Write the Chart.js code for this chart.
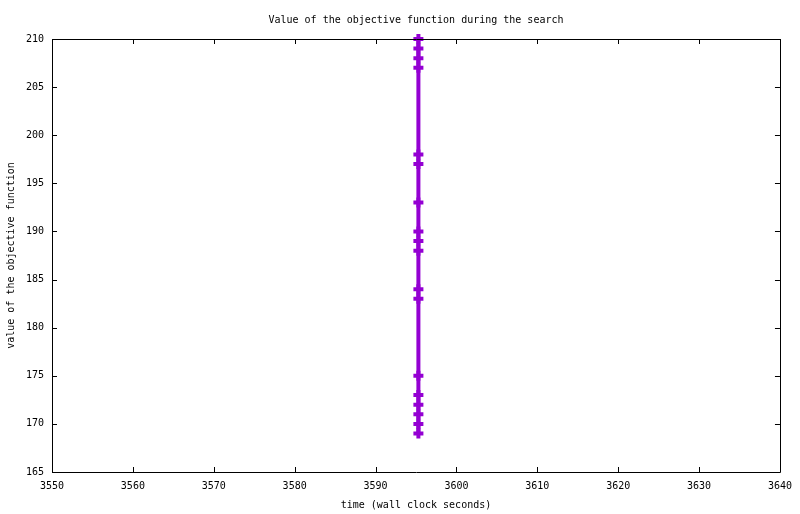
<!DOCTYPE html>
<html>
<head>
<meta charset="utf-8">
<script src="https://cdn.jsdelivr.net/npm/chart.js@4.4.0/dist/chart.umd.min.js"></script>
<style>
html,body{margin:0;padding:0;background:#fff;}
#wrap{width:800px;height:514px;}
</style>
</head>
<body>
<div id="wrap"><canvas id="c" width="800" height="514"></canvas></div>
<script>
const chartTitle = "Value of the objective function during the search";
const xTitle = "time (wall clock seconds)";
const yTitle = "value of the objective function";
const times = [3595.3,3595.3,3595.3,3595.3,3595.3,3595.3,3595.3,3595.3,3595.3,3595.3,3595.3,3595.3,3595.3,3595.3,3595.3,3595.3,3595.3,3595.3];
const objective = [210,209,208,207,198,197,193,190,189,188,184,183,175,173,172,171,170,169];
const xRange = [3550, 3640];
const yRange = [165, 210];
const xStep = 10;
const yStep = 5;

const FONT = "10px 'DejaVu Sans Mono', monospace";
const color = '#9400D3';

const framePlugin = {
  id: 'frame',
  afterDraw(chart) {
    const ctx = chart.ctx;
    const a = chart.chartArea;
    const xs = chart.scales.x, ys = chart.scales.y;
    ctx.save();
    ctx.strokeStyle = '#000';
    ctx.lineWidth = 1;
    ctx.beginPath();
    ctx.rect(Math.round(a.left)+0.5, Math.round(a.top)+0.5, Math.round(a.right-a.left), Math.round(a.bottom-a.top));
    ctx.stroke();
    const tl = 5;
    ctx.beginPath();
    xs.ticks.forEach(t => {
      const px = Math.round(xs.getPixelForValue(t.value)) + 0.5;
      ctx.moveTo(px, a.bottom); ctx.lineTo(px, a.bottom - tl);
      ctx.moveTo(px, a.top); ctx.lineTo(px, a.top + tl);
    });
    ys.ticks.forEach(t => {
      const py = Math.round(ys.getPixelForValue(t.value)) + 0.5;
      ctx.moveTo(a.left, py); ctx.lineTo(a.left + tl, py);
      ctx.moveTo(a.right, py); ctx.lineTo(a.right - tl, py);
    });
    ctx.stroke();
    ctx.fillStyle = '#000';
    ctx.font = FONT;
    ctx.textAlign = 'center';
    ctx.textBaseline = 'middle';
    ctx.fillText(chartTitle, (a.left + a.right) / 2, 20);
    ctx.fillText(xTitle, (a.left + a.right) / 2, 505);
    ctx.save();
    ctx.translate(11, (a.top + a.bottom) / 2);
    ctx.rotate(-Math.PI / 2);
    ctx.fillText(yTitle, 0, 0);
    ctx.restore();
    ctx.restore();
  }
};

const points = times.map((t, i) => ({x: t, y: objective[i]}));

new Chart(document.getElementById('c'), {
  type: 'scatter',
  data: {
    datasets: [{
      data: points,
      showLine: true,
      borderColor: color,
      backgroundColor: color,
      borderWidth: 4,
      pointStyle: 'cross',
      pointRadius: 5,
      pointBorderWidth: 4,
      pointBorderColor: color,
      clip: false
    }]
  },
  options: {
    responsive: false,
    animation: false,
    devicePixelRatio: 1,
    layout: {padding: {top: 39, right: 19, left: 0, bottom: 0}},
    plugins: {legend: {display: false}, tooltip: {enabled: false}, title: {display: false}},
    scales: {
      x: {
        type: 'linear', min: xRange[0], max: xRange[1],
        ticks: {stepSize: xStep, color: '#000', font: {family: "'DejaVu Sans Mono', monospace", size: 10}, padding: 8, maxRotation: 0, callback: v => String(v)},
        grid: {display: false, drawTicks: false},
        border: {display: false},
        afterFit(s) { s.height = 42; }
      },
      y: {
        type: 'linear', min: yRange[0], max: yRange[1],
        ticks: {stepSize: yStep, color: '#000', font: {family: "'DejaVu Sans Mono', monospace", size: 10}, padding: 8},
        grid: {display: false, drawTicks: false},
        border: {display: false},
        afterFit(s) { s.width = 52; }
      }
    }
  },
  plugins: [framePlugin]
});
</script>
</body>
</html>
